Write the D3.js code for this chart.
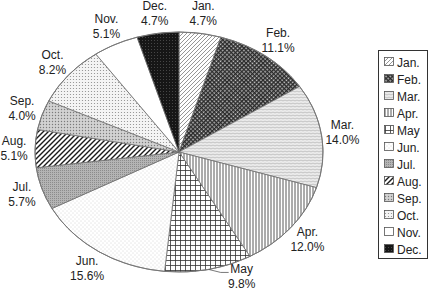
<!DOCTYPE html>
<html>
<head>
<meta charset="utf-8">
<script src="https://cdn.jsdelivr.net/npm/d3@7"></script>
<style>
  html, body { margin: 0; padding: 0; background: #fff; }
  svg { display: block; font-family: "Liberation Sans", Arial, sans-serif; }
</style>
</head>
<body>
<div id="chart"></div>
<script>
// month shares (percent)
const months = ["Jan.", "Feb.", "Mar.", "Apr.", "May", "Jun.", "Jul.", "Aug.", "Sep.", "Oct.", "Nov.", "Dec."];
const shares = [4.7, 11.1, 14.0, 12.0, 9.8, 15.6, 5.7, 5.1, 4.0, 8.2, 5.1, 4.7];
const patternNames = ["diag", "check", "wave", "vlines", "grid", "sparse", "graydots", "stripes", "densedots", "dots", "blank", "black"];
// labels that sit below the pie and need a leader line
const leaderLabels = ["May"];

const width = 429, height = 291;
const cx = 179, cy = 152, rx = 144, ry = 120;

const data = months.map((m, i) => ({month: m, value: shares[i]}));

const svg = d3.select("#chart").append("svg")
  .attr("width", width)
  .attr("height", height);

// ---- fill patterns (approximate the grayscale hatching of the original)
const defs = svg.append("defs");
const pat = (id, w, h, bg) => {
  const p = defs.append("pattern")
    .attr("id", id)
    .attr("patternUnits", "userSpaceOnUse")
    .attr("width", w).attr("height", h);
  p.append("rect").attr("width", w).attr("height", h).attr("fill", bg);
  return p;
};

let p = pat("diag", 4, 4, "#fff");
p.append("path").attr("d", "M-1,1 L1,-1 M0,4 L4,0 M3,5 L5,3")
  .attr("stroke", "#8a8a8a").attr("stroke-width", 0.9);

p = pat("check", 3, 3, "#2a2a2a").attr("patternTransform", "rotate(45)");
p.append("rect").attr("x", 0.5).attr("y", 0.5).attr("width", 1.4).attr("height", 1.4).attr("fill", "#f2f2f2");

p = pat("wave", 4, 3, "#ebebeb");
p.append("path").attr("d", "M0,1.5 Q1,0.6 2,1.5 T4,1.5")
  .attr("fill", "none").attr("stroke", "#a8a8a8").attr("stroke-width", 0.6);

p = pat("vlines", 3, 3, "#fff");
p.append("line").attr("x1", 1).attr("x2", 1).attr("y1", 0).attr("y2", 3)
  .attr("stroke", "#444").attr("stroke-width", 0.9);

p = pat("grid", 5, 5, "#fff");
p.append("path").attr("d", "M0,0.5 H5 M0.5,0 V5")
  .attr("stroke", "#333").attr("stroke-width", 0.8);

p = pat("sparse", 4, 4, "#fff");
p.append("circle").attr("cx", 1).attr("cy", 1).attr("r", 0.45).attr("fill", "#aaa");
p.append("circle").attr("cx", 3).attr("cy", 3).attr("r", 0.45).attr("fill", "#aaa");

p = pat("graydots", 2, 2, "#b4b4b4");
p.append("rect").attr("width", 1).attr("height", 1).attr("fill", "#8c8c8c");

p = pat("stripes", 5, 5, "#fff");
p.append("path").attr("d", "M-1,1 L1,-1 M0,5 L5,0 M4,6 L6,4")
  .attr("stroke", "#1a1a1a").attr("stroke-width", 1.4);

p = pat("densedots", 3, 3, "#d2d2d2");
p.append("circle").attr("cx", 1.5).attr("cy", 1.5).attr("r", 0.7).attr("fill", "#7a7a7a");

p = pat("dots", 3, 3, "#f4f4f4");
p.append("circle").attr("cx", 1.5).attr("cy", 1.5).attr("r", 0.6).attr("fill", "#8a8a8a");

pat("blank", 4, 4, "#fff");

p = pat("black", 3, 3, "#161616");
p.append("circle").attr("cx", 1.5).attr("cy", 1.5).attr("r", 0.5).attr("fill", "#555");

const fill = d3.scaleOrdinal().domain(months).range(patternNames.map(n => `url(#${n})`));

// ---- pie (elliptical: angles from d3.pie, points on the ellipse)
const pie = d3.pie().sort(null).value(d => d.value);
const arcs = pie(data);

const pt = (a, kx = 0, ky = kx) => [cx + (rx + kx) * Math.sin(a), cy - (ry + ky) * Math.cos(a)];

const slicePath = d => {
  const [x0, y0] = pt(d.startAngle);
  const [x1, y1] = pt(d.endAngle);
  const large = d.endAngle - d.startAngle > Math.PI ? 1 : 0;
  return `M${cx},${cy}L${x0},${y0}A${rx},${ry} 0 ${large} 1 ${x1},${y1}Z`;
};

svg.append("g")
  .selectAll("path")
  .data(arcs)
  .join("path")
    .attr("d", slicePath)
    .attr("fill", d => fill(d.data.month))
    .attr("stroke", "#6e6e6e")
    .attr("stroke-width", 0.8)
    .attr("stroke-linejoin", "round");

svg.append("ellipse")
  .attr("cx", cx).attr("cy", cy)
  .attr("rx", rx).attr("ry", ry)
  .attr("fill", "none")
  .attr("stroke", "#777")
  .attr("stroke-width", 1);

// ---- labels: centred on a larger ellipse at each slice's mid angle
const fmt = d3.format(".1f");
const labelOut = {x: 21, y: 20};

const labelPos = d => {
  const a = (d.startAngle + d.endAngle) / 2;
  if (leaderLabels.includes(d.data.month)) {
    const r = pt(a);
    const elbow = [r[0] + 12, r[1] + 3];
    const end = [elbow[0] + 8, elbow[1]];
    return {c: [end[0] + 13, end[1] + 4], leader: [r, elbow, end]};
  }
  return {c: pt(a, labelOut.x, labelOut.y), leader: null};
};

svg.append("g")
  .attr("font-size", 12)
  .attr("fill", "#222")
  .attr("text-anchor", "middle")
  .selectAll("g")
  .data(arcs)
  .join("g")
    .each(function(d) {
      const lp = labelPos(d);
      const g = d3.select(this);
      if (lp.leader) {
        g.append("path")
          .attr("d", d3.line()(lp.leader))
          .attr("fill", "none")
          .attr("stroke", "#555")
          .attr("stroke-width", 0.8);
      }
      const t = g.append("text");
      t.append("tspan").attr("x", lp.c[0]).attr("y", lp.c[1] - 3.5).text(d.data.month);
      t.append("tspan").attr("x", lp.c[0]).attr("y", lp.c[1] + 11.5).text(fmt(d.data.value) + "%");
    });

// ---- legend
const ly = d3.scalePoint().domain(months).range([62, 249]);

const legend = svg.append("g");
legend.append("rect")
  .attr("x", 378.5).attr("y", 50.5)
  .attr("width", 49).attr("height", 208)
  .attr("fill", "#fff")
  .attr("stroke", "#333")
  .attr("stroke-width", 1);

const rows = legend.selectAll("g.row")
  .data(months)
  .join("g")
    .attr("class", "row")
    .attr("transform", m => `translate(0,${ly(m)})`);

rows.append("rect")
  .attr("x", 384.5).attr("y", -4.5)
  .attr("width", 9).attr("height", 8)
  .attr("fill", m => fill(m))
  .attr("stroke", "#555")
  .attr("stroke-width", 0.8);

rows.append("text")
  .attr("x", 397)
  .attr("y", 4.5)
  .attr("font-size", 12)
  .attr("fill", "#222")
  .text(m => m);
</script>
</body>
</html>
